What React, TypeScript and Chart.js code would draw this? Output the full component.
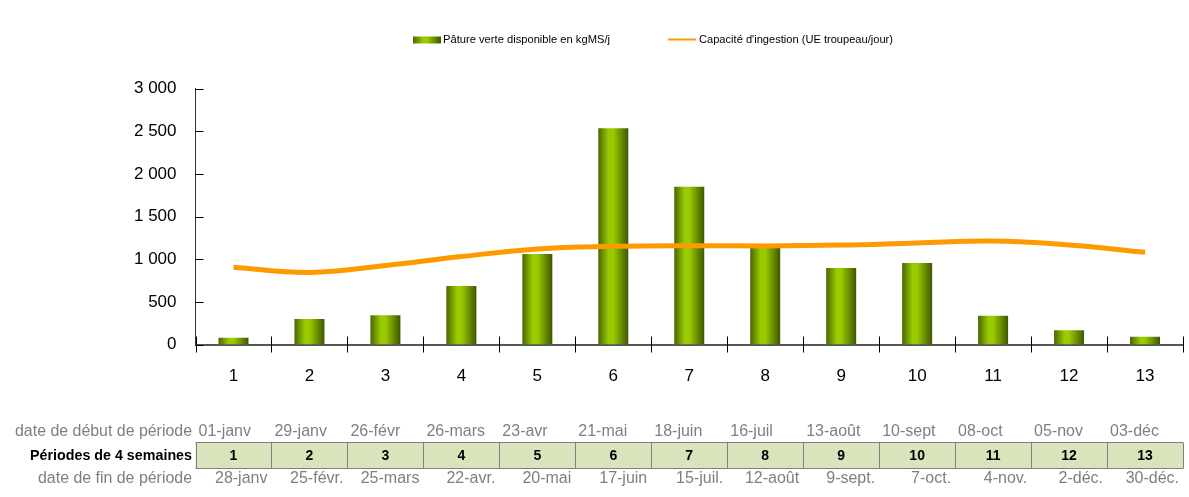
import React, { useEffect, useRef } from 'react';
import { Chart, registerables } from 'chart.js';

Chart.register(...registerables);

// ---- Data ----
const periods = ['1', '2', '3', '4', '5', '6', '7', '8', '9', '10', '11', '12', '13'];
const pastureValues = [80, 300, 342, 686, 1060, 2535, 1850, 1140, 897, 955, 337, 166, 91];
const intakeCapacity = [905, 845, 925, 1030, 1120, 1150, 1158, 1155, 1165, 1190, 1212, 1166, 1080];
const startDates = ['01-janv', '29-janv', '26-févr', '26-mars', '23-avr', '21-mai', '18-juin', '16-juil', '13-août', '10-sept', '08-oct', '05-nov', '03-déc'];
const endDates = ['28-janv', '25-févr.', '25-mars', '22-avr.', '20-mai', '17-juin', '15-juil.', '12-août', '9-sept.', '7-oct.', '4-nov.', '2-déc.', '30-déc.'];
const yTickValues = [0, 500, 1000, 1500, 2000, 2500, 3000];
const pastureLabel = 'Pâture verte disponible en kgMS/j';
const intakeLabel = "Capacité d'ingestion (UE troupeau/jour)";
const rowLabels = ['date de début de période', 'Périodes de 4 semaines', 'date de fin de période'];

const FONT = '"Liberation Sans", Arial, sans-serif';
const GRAY = '#7f7f7f';
const ORANGE = '#ff9900';

function barGradient(ctx: CanvasRenderingContext2D, x0: number, x1: number) {
  const g = ctx.createLinearGradient(x0, 0, x1, 0);
  g.addColorStop(0, '#4a6600');
  g.addColorStop(0.35, '#99cc00');
  g.addColorStop(0.5, '#9acb00');
  g.addColorStop(1, '#3e5700');
  return g;
}

const fmt = (v: number) => String(v).replace(/\B(?=(\d{3})+(?!\d))/g, ' ');

const extrasPlugin = {
  id: 'extras',
  afterDraw(chart: any) {
    const ctx: CanvasRenderingContext2D = chart.ctx;
    const xs = chart.scales.x;
    const ys = chart.scales.y;
    ctx.save();

    // tick marks: y inward, x crossing
    ctx.strokeStyle = '#000';
    ctx.lineWidth = 1;
    ctx.beginPath();
    yTickValues.forEach((v) => {
      const y = Math.round(ys.getPixelForValue(v)) + 0.5;
      ctx.moveTo(xs.left, y);
      ctx.lineTo(xs.left + 8, y);
    });
    for (let i = 0; i <= periods.length; i++) {
      const x = Math.round(xs.getPixelForValue(i - 0.5)) + 0.5;
      ctx.moveTo(x, ys.bottom - 8);
      ctx.lineTo(x, ys.bottom + 8);
    }
    ctx.stroke();

    // legend
    ctx.fillStyle = barGradient(ctx, 413, 441);
    ctx.fillRect(413, 36.5, 28, 7);
    ctx.fillStyle = '#000';
    ctx.font = `11.5px ${FONT}`;
    ctx.textBaseline = 'middle';
    ctx.textAlign = 'left';
    ctx.fillText(chart.data.datasets[0].label, 443, 40, 167);
    ctx.strokeStyle = ORANGE;
    ctx.lineWidth = 2;
    ctx.beginPath();
    ctx.moveTo(668, 39.5);
    ctx.lineTo(696, 39.5);
    ctx.stroke();
    ctx.fillText(chart.data.datasets[1].label, 699, 40, 194);

    // table
    const bounds: number[] = [];
    for (let i = 0; i <= periods.length; i++) bounds.push(xs.getPixelForValue(i - 0.5));
    const top = 442.5;
    const bottom = 468.5;
    ctx.fillStyle = '#d8e4bc';
    ctx.fillRect(bounds[0], top, bounds[bounds.length - 1] - bounds[0], bottom - top);
    ctx.strokeStyle = '#808080';
    ctx.lineWidth = 1;
    ctx.beginPath();
    ctx.moveTo(bounds[0], top);
    ctx.lineTo(bounds[bounds.length - 1], top);
    ctx.moveTo(bounds[0], bottom);
    ctx.lineTo(bounds[bounds.length - 1], bottom);
    bounds.forEach((b) => {
      const x = Math.round(b) + 0.5;
      ctx.moveTo(x, top);
      ctx.lineTo(x, bottom);
    });
    ctx.stroke();

    ctx.textBaseline = 'middle';
    ctx.textAlign = 'right';
    ctx.fillStyle = GRAY;
    ctx.font = `16px ${FONT}`;
    ctx.fillText(rowLabels[0], 192, 432, 177);
    ctx.fillText(rowLabels[2], 192, 479, 154);
    ctx.fillStyle = '#000';
    ctx.font = `bold 15px ${FONT}`;
    ctx.fillText(rowLabels[1], 192, 455.5, 162);

    for (let i = 0; i < periods.length; i++) {
      const l = bounds[i];
      const r = bounds[i + 1];
      ctx.fillStyle = GRAY;
      ctx.font = `16px ${FONT}`;
      ctx.textAlign = 'left';
      ctx.fillText(startDates[i], l + 3, 432, 62);
      ctx.textAlign = 'right';
      ctx.fillText(endDates[i], r - 4, 479, 62);
      ctx.fillStyle = '#000';
      ctx.font = `bold 14px ${FONT}`;
      ctx.textAlign = 'center';
      ctx.fillText(periods[i], (l + r) / 2, 456);
    }
    ctx.restore();
  },
};

export default function App() {
  const ref = useRef<HTMLCanvasElement | null>(null);
  useEffect(() => {
    if (!ref.current) return;
    const chart = new Chart(ref.current, {
      type: 'bar',
      data: {
        labels: periods,
        datasets: [
          {
            type: 'bar',
            label: pastureLabel,
            data: pastureValues,
            order: 2,
            categoryPercentage: 0.5,
            barPercentage: 0.79,
            borderWidth: 0,
            backgroundColor: (c: any) => {
              const sx = c.chart.scales && c.chart.scales.x;
              if (!sx || typeof c.dataIndex !== 'number') return '#99cc00';
              const cx = sx.getPixelForValue(c.dataIndex);
              const half = (sx.width / periods.length) * 0.5 * 0.79 / 2;
              if (!isFinite(cx) || !isFinite(half) || half <= 0) return '#99cc00';
              return barGradient(c.chart.ctx, cx - half, cx + half);
            },
          },
          {
            type: 'line',
            label: intakeLabel,
            data: intakeCapacity,
            order: 1,
            borderColor: ORANGE,
            backgroundColor: ORANGE,
            borderWidth: 5,
            tension: 0.4,
            pointRadius: 0,
            fill: false,
          },
        ],
      } as any,
      options: {
        responsive: false,
        animation: false,
        layout: { padding: { top: 88.5, right: 6, left: 0, bottom: 0 } },
        plugins: {
          legend: { display: false },
          tooltip: { enabled: false },
        },
        scales: {
          x: {
            offset: true,
            grid: { display: false, drawTicks: false, offset: true },
            border: { display: true, color: '#555', width: 2 },
            ticks: { color: '#000', font: { family: FONT, size: 17 }, padding: 22 },
            afterFit: (s: any) => { s.height = 152.5; },
          },
          y: {
            min: 0,
            max: 3000,
            afterBuildTicks: (s: any) => { s.ticks = yTickValues.map((v) => ({ value: v })); },
            grid: { display: false, drawTicks: false },
            border: { display: true, color: '#333', width: 1 },
            ticks: {
              color: '#000',
              font: { family: FONT, size: 17 },
              padding: 19,
              callback: (v: any) => fmt(Number(v)),
            },
            afterFit: (s: any) => { s.width = 195.5; },
          },
        },
      } as any,
      plugins: [extrasPlugin],
    });
    return () => chart.destroy();
  }, []);
  return (
    <div style={{ position: 'fixed', left: 0, top: 0, width: 1189, height: 497, background: '#fff' }}>
      <canvas ref={ref} width={1189} height={497} style={{ width: 1189, height: 497 }} />
    </div>
  );
}
